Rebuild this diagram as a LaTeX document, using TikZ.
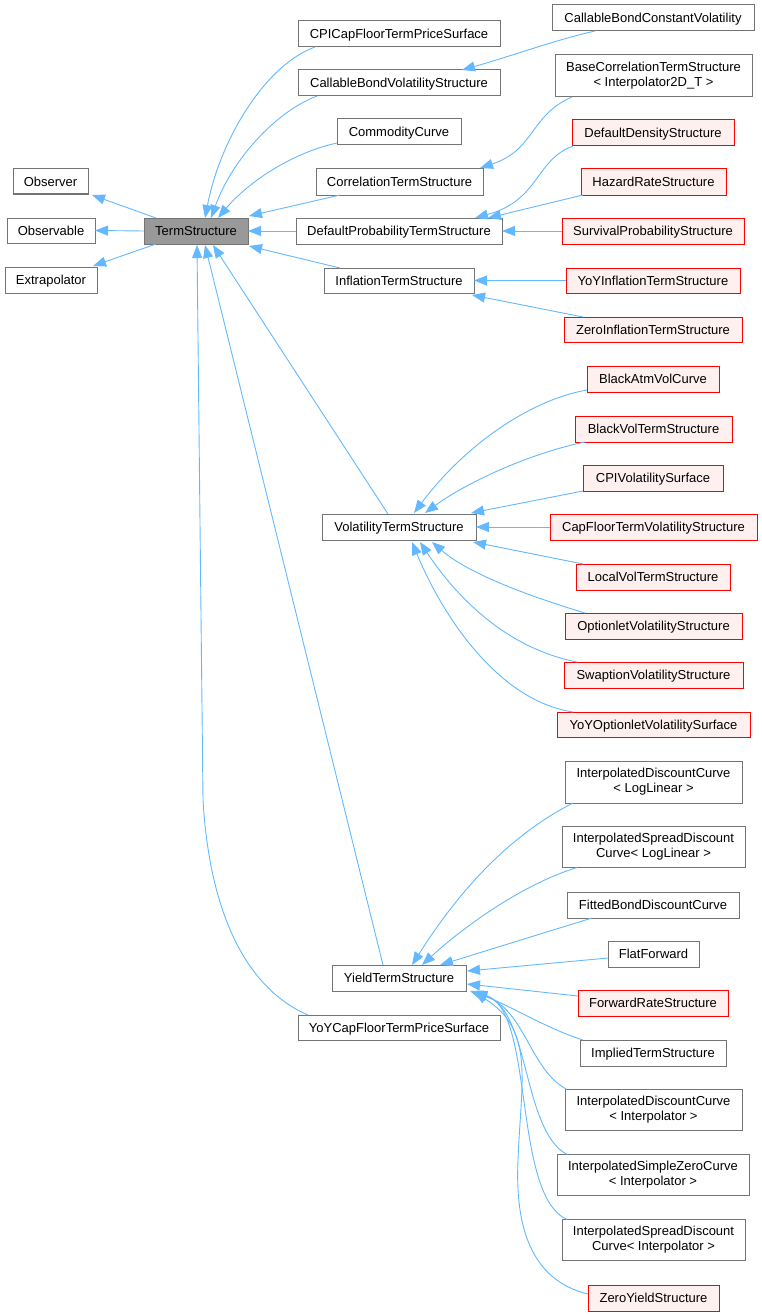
\documentclass[tikz,border=0pt]{standalone}
\usepackage{fontspec}
\setmainfont{Liberation Sans}
\usetikzlibrary{arrows.meta,calc}
\definecolor{edgec}{HTML}{63B8FF}
\definecolor{grayb}{HTML}{747474}
\definecolor{tsfill}{HTML}{999999}
\definecolor{redfill}{HTML}{FFF0F0}
\definecolor{redb}{HTML}{FF0000}
\newcommand{\nf}{\fontsize{13}{15}\selectfont}
\tikzset{
  boxbase/.style={line width=1pt, inner sep=0pt, outer sep=0pt, font=\nf, text=black, text height=9.3pt, text depth=0pt},
  graybox/.style={boxbase, draw=grayb, fill=white},
  redbox/.style={boxbase, draw=redb, fill=redfill},
  tsbox/.style={boxbase, draw=grayb, fill=tsfill},
  twoline/.style={align=center, text height={}, text depth={}},
  sz/.style 2 args={minimum width=#1pt, minimum height=#2pt},
  inh/.style={draw=edgec, line width=0.9pt, -{Triangle[length=13pt,width=10pt]}}
}
\begin{document}
\begin{tikzpicture}[x=1pt,y=-1pt]
\useasboundingbox (0,0) rectangle (762,1316);
% left column
\node[graybox, sz={75}{25}] (obs) at (50.5,181.5) {Observer};
\node[graybox, sz={88}{25}] (obsable) at (51,230.5) {Observable};
\node[graybox, sz={92}{26}] (extra) at (51,280) {Extrapolator};
\node[tsbox, sz={104}{26}] (ts) at (196,231) {TermStructure};
% middle column
\node[graybox, sz={202}{26}] (cpi) at (399,34) {CPICapFloorTermPriceSurface};
\node[graybox, sz={202}{26}] (cbvs) at (399,83) {CallableBondVolatilityStructure};
\node[graybox, sz={124}{26}] (comm) at (399,132) {CommodityCurve};
\node[graybox, sz={167}{26}] (corr) at (399.5,182) {CorrelationTermStructure};
\node[graybox, sz={206}{26}] (dpts) at (399,231) {DefaultProbabilityTermStructure};
\node[graybox, sz={150}{25}] (infl) at (399,280.5) {InflationTermStructure};
\node[graybox, sz={154}{26}] (vts) at (399,527) {VolatilityTermStructure};
\node[graybox, sz={134}{26}] (yts) at (399,978) {YieldTermStructure};
\node[graybox, sz={202}{25}] (yoycap) at (399,1027.5) {YoYCapFloorTermPriceSurface};
% right column
\node[graybox, sz={202}{26}] (cbcv) at (653,18) {CallableBondConstantVolatility};
\node[graybox, twoline, sz={197}{42}] (basecorr) at (653.5,76) {BaseCorrelationTermStructure\\< Interpolator2D\_T >};
\node[redbox, sz={162}{26}] (dds) at (653,133) {DefaultDensityStructure};
\node[redbox, sz={145}{26}] (hrs) at (653.5,182) {HazardRateStructure};
\node[redbox, sz={182}{26}] (sps) at (653,231) {SurvivalProbabilityStructure};
\node[redbox, sz={174}{25}] (yoyi) at (653,280.5) {YoYInflationTermStructure};
\node[redbox, sz={178}{25}] (zi) at (653,329.5) {ZeroInflationTermStructure};
\node[redbox, sz={132}{26}] (bavc) at (653,379) {BlackAtmVolCurve};
\node[redbox, sz={157}{26}] (bvts) at (653.5,429) {BlackVolTermStructure};
\node[redbox, sz={140}{26}] (cpivs) at (653,478) {CPIVolatilitySurface};
\node[redbox, sz={207}{26}] (cftvs) at (653.5,527) {CapFloorTermVolatilityStructure};
\node[redbox, sz={154}{26}] (lvts) at (653,577) {LocalVolTermStructure};
\node[redbox, sz={177}{26}] (ovs) at (653.5,626) {OptionletVolatilityStructure};
\node[redbox, sz={179}{26}] (svs) at (653.5,675) {SwaptionVolatilityStructure};
\node[redbox, sz={193}{25}] (yoyovs) at (653.5,724.5) {YoYOptionletVolatilitySurface};
\node[graybox, twoline, sz={177}{42}] (idcll) at (653.5,782) {InterpolatedDiscountCurve\\< LogLinear >};
\node[graybox, twoline, sz={183}{41}] (isdcll) at (653.5,847) {InterpolatedSpreadDiscount\\Curve< LogLinear >};
\node[graybox, sz={172}{26}] (fbdc) at (653,905) {FittedBondDiscountCurve};
\node[graybox, sz={91}{26}] (ff) at (653.5,954) {FlatForward};
\node[redbox, sz={150}{26}] (frs) at (653,1003) {ForwardRateStructure};
\node[graybox, sz={146}{26}] (its) at (653,1053) {ImpliedTermStructure};
\node[graybox, twoline, sz={177}{41}] (idci) at (653.5,1110) {InterpolatedDiscountCurve\\< Interpolator >};
\node[graybox, twoline, sz={192}{41}] (iszc) at (653,1175) {InterpolatedSimpleZeroCurve\\< Interpolator >};
\node[graybox, twoline, sz={183}{41}] (isdci) at (653.5,1240) {InterpolatedSpreadDiscount\\Curve< Interpolator >};
\node[redbox, sz={131}{26}] (zys) at (653.5,1298) {ZeroYieldStructure};
% edges to TermStructure bases
\draw[inh] ($(ts.north west)+(12,0)$) -- ($(obs.south east)+(4,1)$);
\draw[inh] (ts.west) -- (obsable.east);
\draw[inh] ($(ts.south west)+(12,0)$) -- ($(extra.north east)+(-4,-1)$);
% edges into TermStructure
\draw[inh] ($(cpi.south west)+(17,0)$) .. controls (265,65) and (220,140) .. ($(ts.north)+(9,0)$);
\draw[inh] ($(cbvs.south west)+(19,0)$) .. controls (275,112) and (232,160) .. ($(ts.north)+(15,0)$);
\draw[inh] ($(comm.south west)+(0,-2)$) .. controls (295,152) and (250,180) .. ($(ts.north)+(22,0)$);
\draw[inh] ($(corr.south west)+(24,0)$) -- ($(ts.north east)+(1,-2)$);
\draw[inh] (dpts.west) -- (ts.east);
\draw[inh] ($(infl.north west)+(16,0)$) -- ($(ts.south east)+(1,2)$);
\draw[inh] ($(vts.north west)+(66,0)$) -- ($(ts.south)+(17,1)$);
\draw[inh] ($(yts.north west)+(51,0)$) -- ($(ts.south)+(9,1)$);
\draw[inh] ($(yoycap.north west)+(10,0)$) .. controls (250,990) and (210,920) .. (203,800) -- ($(ts.south)+(1,1)$);
% second level
\draw[inh] ($(cbcv.south west)+(43,0)$) .. controls (555,40) and (515,55) .. ($(cbvs.north east)+(-38,0)$);
\draw[inh] ($(basecorr.south west)+(17,0)$) .. controls (530,115) and (535,150) .. ($(corr.north east)+(-3,-1)$);
\draw[inh] ($(dds.south west)+(1,0)$) .. controls (535,160) and (540,200) .. ($(dpts.north east)+(-27,0)$);
\draw[inh] ($(hrs.south west)+(2,0)$) -- ($(dpts.north east)+(-14,0)$);
\draw[inh] (sps.west) -- (dpts.east);
\draw[inh] (yoyi.west) -- (infl.east);
\draw[inh] ($(zi.north west)+(19,0)$) -- ($(infl.south east)+(-2,2)$);
% volatility
\draw[inh] ($(bavc.south west)+(0,-2)$) .. controls (530,400) and (465,445) .. ($(vts.north)+(15,-1)$);
\draw[inh] ($(bvts.south west)+(10,0)$) .. controls (535,452) and (470,480) .. ($(vts.north)+(26,-1)$);
\draw[inh] (cpivs.south west) -- ($(vts.north east)+(-5,-1)$);
\draw[inh] (cftvs.west) -- (vts.east);
\draw[inh] ($(lvts.north west)+(7,0)$) -- ($(vts.south east)+(-3,2)$);
\draw[inh] ($(ovs.north west)+(20,0)$) .. controls (535,598) and (470,575) .. ($(vts.south)+(33,2)$);
\draw[inh] ($(svs.north west)+(13,0)$) .. controls (505,648) and (455,595) .. ($(vts.south)+(21,2)$);
\draw[inh] ($(yoyovs.north west)+(16,0)$) .. controls (495,700) and (440,610) .. ($(vts.south)+(13,2)$);
% yield
\draw[inh] ($(idcll.south west)+(8,0)$) .. controls (500,840) and (450,905) .. ($(yts.north)+(13,0)$);
\draw[inh] ($(isdcll.south west)+(15,0)$) .. controls (520,885) and (460,930) .. ($(yts.north)+(23,0)$);
\draw[inh] ($(fbdc.south west)+(25,0)$) -- ($(yts.north)+(41,0)$);
\draw[inh] ($(ff.west)+(0,4)$) -- ($(yts.east)+(1,-7)$);
\draw[inh] ($(frs.west)+(0,-7)$) -- ($(yts.east)+(1,6)$);
\draw[inh] ($(its.north west)+(3,0)$) .. controls (545,1028) and (510,1005) .. ($(yts.south east)+(4,0)$);
\draw[inh] ($(idci.north west)+(2,0)$) .. controls (530,1070) and (525,1010) .. ($(yts.south east)+(8,1)$);
\draw[inh] ($(iszc.north west)+(10,0)$) .. controls (522,1130) and (530,1010) .. ($(yts.south east)+(8,1)$);
\draw[inh] ($(isdci.north west)+(5,0)$) .. controls (512,1195) and (535,1010) .. ($(yts.south east)+(8,1)$);
\draw[inh] ($(zys.west)+(0,-4)$) .. controls (530,1280) and (515,1225) .. (518,1160) .. controls (521,1080) and (535,1030) .. ($(yts.south east)+(8,1)$);
\end{tikzpicture}
\end{document}
